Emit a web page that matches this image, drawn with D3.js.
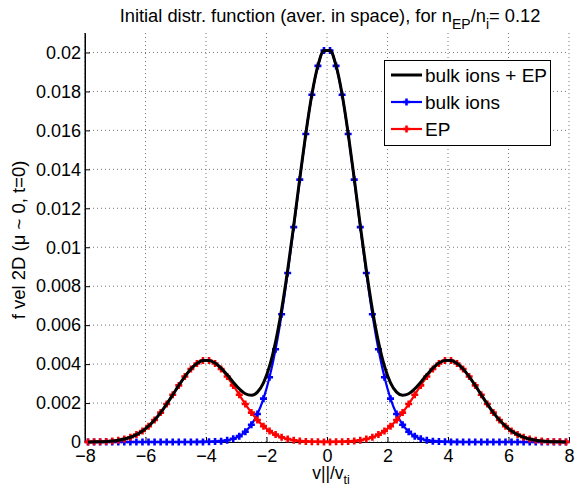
<!DOCTYPE html>
<html><head><meta charset="utf-8">
<script src="https://cdn.jsdelivr.net/npm/d3@7"></script>
<style>body{margin:0;background:#fff}svg{display:block;font-family:"Liberation Sans",Arial,sans-serif}</style>
</head><body>
<svg id="c" width="575" height="487"></svg>
<script>
const vpar = [-7.9,-7.7,-7.5,-7.3,-7.1,-6.9,-6.7,-6.5,-6.3,-6.1,-5.9,-5.7,-5.5,-5.3,-5.1,-4.9,-4.7,-4.5,-4.3,-4.1,-3.9,-3.7,-3.5,-3.3,-3.1,-2.9,-2.7,-2.5,-2.3,-2.1,-1.9,-1.7,-1.5,-1.3,-1.1,-0.9,-0.7,-0.5,-0.3,-0.1,
0.1,0.3,0.5,0.7,0.9,1.1,1.3,1.5,1.7,1.9,2.1,2.3,2.5,2.7,2.9,3.1,3.3,3.5,3.7,3.9,4.1,4.3,4.5,4.7,4.9,5.1,5.3,5.5,5.7,5.9,6.1,6.3,6.5,6.7,6.9,7.1,7.3,7.5,7.7,7.9];
const bulkIons = [0,0,0,0,0,0,0,0,0,0,0,0,0,0,0,0,0,0.000001,0.000002,0.000005,0.000010,0.000022,0.000044,0.000087,0.000165,0.000301,0.000528,0.000888,0.001434,0.002227,0.003322,0.004762,0.006558,0.008677,0.011031,0.013473,0.015811,0.017826,0.019311,0.020099,
0.020099,0.019311,0.017826,0.015811,0.013473,0.011031,0.008677,0.006558,0.004762,0.003322,0.002227,0.001434,0.000888,0.000528,0.000301,0.000165,0.000087,0.000044,0.000022,0.000010,0.000005,0.000002,0.000001,0,0,0,0,0,0,0,0,0,0,0,0,0,0,0,0,0];
const epIons = [0.000004,0.000008,0.000016,0.000030,0.000053,0.000092,0.000153,0.000245,0.000379,0.000566,0.000814,0.001129,0.001510,0.001948,0.002423,0.002906,0.003361,0.003749,0.004032,0.004181,0.004181,0.004032,0.003749,0.003361,0.002906,0.002423,0.001948,0.001510,0.001129,0.000814,0.000566,0.000379,0.000245,0.000153,0.000092,0.000053,0.000030,0.000016,0.000009,0.000006,
0.000006,0.000009,0.000016,0.000030,0.000053,0.000092,0.000153,0.000245,0.000379,0.000566,0.000814,0.001129,0.001510,0.001948,0.002423,0.002906,0.003361,0.003749,0.004032,0.004181,0.004181,0.004032,0.003749,0.003361,0.002906,0.002423,0.001948,0.001510,0.001129,0.000814,0.000566,0.000379,0.000245,0.000153,0.000092,0.000053,0.000030,0.000016,0.000008,0.000004];
const totalIons = [0.000004,0.000008,0.000016,0.000030,0.000053,0.000092,0.000153,0.000245,0.000379,0.000566,0.000814,0.001129,0.001510,0.001948,0.002423,0.002906,0.003361,0.003750,0.004034,0.004186,0.004191,0.004054,0.003793,0.003448,0.003071,0.002724,0.002476,0.002398,0.002563,0.003041,0.003888,0.005141,0.006803,0.008830,0.011123,0.013526,0.015841,0.017842,0.019320,0.020105,
0.020105,0.019320,0.017842,0.015841,0.013526,0.011123,0.008830,0.006803,0.005141,0.003888,0.003041,0.002563,0.002398,0.002476,0.002724,0.003071,0.003448,0.003793,0.004054,0.004191,0.004186,0.004034,0.003750,0.003361,0.002906,0.002423,0.001948,0.001510,0.001129,0.000814,0.000566,0.000379,0.000245,0.000153,0.000092,0.000053,0.000030,0.000016,0.000008,0.000004];
const xTicks = [-8,-6,-4,-2,0,2,4,6,8];
const yTicks = [0,0.002,0.004,0.006,0.008,0.01,0.012,0.014,0.016,0.018,0.02];
const legendLabels = ["bulk ions + EP","bulk ions","EP"];

const L=85,R=569,T=33,B=442;
const svg=d3.select("#c");
const x=d3.scaleLinear().domain([-8,8]).range([L,R]);
const y=d3.scaleLinear().domain([0,0.021]).range([B,T]);

// grid
const g=svg.append("g");
g.selectAll(".gx").data(xTicks).join("line").attr("x1",d=>x(d)).attr("x2",d=>x(d)).attr("y1",B).attr("y2",T)
 .attr("stroke","#777").attr("stroke-width",1).attr("stroke-dasharray","1,3");
g.selectAll(".gy").data(yTicks).join("line").attr("y1",d=>y(d)).attr("y2",d=>y(d)).attr("x1",L).attr("x2",R)
 .attr("stroke","#777").attr("stroke-width",1).attr("stroke-dasharray","1,3");

// axes
const fmtY=d=>d===0?"0":d3.format(".3~f")(d);
const xa=svg.append("g").attr("transform",`translate(0,${B})`)
 .call(d3.axisBottom(x).tickValues(xTicks).tickSizeInner(-5).tickSizeOuter(0).tickPadding(7).tickFormat(d=>d<0?"\u2212"+(-d):d));
const ya=svg.append("g").attr("transform",`translate(${L},0)`)
 .call(d3.axisLeft(y).tickValues(yTicks).tickSizeInner(-5).tickSizeOuter(0).tickPadding(4).tickFormat(fmtY));
[xa,ya].forEach(a=>{a.select(".domain").attr("stroke","#000").attr("stroke-width",1);
 a.selectAll("text").attr("font-size",18).attr("fill","#000").attr("font-family","Liberation Sans, Arial, sans-serif");
 a.selectAll(".tick line").attr("stroke","#000");});
svg.append("line").attr("x1",L).attr("x2",L).attr("y1",T).attr("y2",B).attr("stroke","#000");

const data=vpar.map((v,i)=>({v,b:bulkIons[i],e:epIons[i],t:totalIons[i]}));
const line=k=>d3.line().x(d=>x(d.v)).y(d=>y(d[k])).curve(d3.curveMonotoneX);
function plus(sel,col){
 sel.append("path").attr("d","M-3.5,0H3.5M0,-3.5V3.5").attr("stroke",col).attr("stroke-width",2.6).attr("fill","none");
}
[["b","#0000ff"],["e","#ff0000"]].forEach(([k,col])=>{
 svg.append("path").datum(data).attr("d",line(k)).attr("fill","none").attr("stroke",col).attr("stroke-width",2.2);
 svg.append("g").selectAll("g").data(data).join("g").attr("transform",d=>`translate(${x(d.v)},${y(d[k])})`).each(function(){plus(d3.select(this),col);});
});
svg.append("path").datum(data).attr("d",line("t")).attr("fill","none").attr("stroke","#000").attr("stroke-width",3);

// legend
const lg=svg.append("g");
lg.append("rect").attr("x",384.5).attr("y",60.5).attr("width",166).attr("height",85).attr("fill","#fff").attr("stroke","#000");
const cols=["#000","#0000ff","#ff0000"], rows=[75,102,129];
legendLabels.forEach((t,i)=>{
 lg.append("line").attr("x1",391).attr("x2",422).attr("y1",rows[i]).attr("y2",rows[i]).attr("stroke",cols[i]).attr("stroke-width",i===0?3:2.2);
 if(i>0){const m=lg.append("g").attr("transform",`translate(406.5,${rows[i]})`);plus(m,cols[i]);}
 lg.append("text").attr("x",425).attr("y",rows[i]).attr("dy","0.36em").attr("font-size",19).text(t);
});

// title
const tt=svg.append("text").attr("x",330).attr("y",22).attr("text-anchor","middle").attr("font-size",18.3);
tt.append("tspan").text("Initial distr. function (aver. in space), for n");
tt.append("tspan").attr("dy",7).attr("font-size",14).text("EP");
tt.append("tspan").attr("dy",-7).text("/n");
tt.append("tspan").attr("dy",7).attr("font-size",14).text("i");
tt.append("tspan").attr("dy",-7).text("= 0.12");

// x label
const xl=svg.append("text").attr("x",331).attr("y",479).attr("text-anchor","middle").attr("font-size",17.5);
xl.append("tspan").text("v||/v");
xl.append("tspan").attr("dy",5).attr("font-size",12.5).text("ti");

// y label
svg.append("text").attr("transform","translate(25,240) rotate(-90)").attr("text-anchor","middle").attr("font-size",18.5)
 .text("f vel 2D (\u03bc ~ 0, t=0)");
</script>
</body></html>
